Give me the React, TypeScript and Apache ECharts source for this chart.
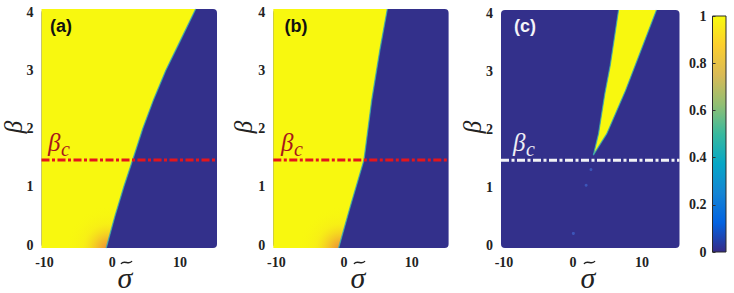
import React, { useEffect, useRef } from "react";
import * as echarts from "echarts";

// ---- axis ticks ----
const SIGMA_TICKS = [-10, 0, 10];
const SIGMA_MAX = 15;
const BETA_TICKS = [0, 1, 2, 3, 4];
const CBAR_TICKS = [0, 0.2, 0.4, 0.6, 0.8, 1];
const BETA_C = 1.46;

// ---- panel (a): boundary between yellow (left) and blue (right) ----
const A_BOUND_BETA = [0, 0.5, 1.0, 1.46, 2.0, 2.5, 3.0, 3.5, 4.0];
const A_BOUND_SIGMA = [-0.9, 0.4, 1.7, 3.0, 4.5, 6.1, 7.9, 10.0, 12.3];

// ---- panel (b) ----
const B_BOUND_BETA = [0, 0.65, 1.46, 2.0, 2.49, 3.35, 4.0];
const B_BOUND_SIGMA = [-0.8, 0.9, 2.95, 3.55, 4.1, 5.3, 6.4];

// ---- panel (c): yellow wedge ----
const C_LEFT_BETA = [1.55, 1.92, 2.6, 3.1, 4.0];
const C_LEFT_SIGMA = [2.95, 3.7, 4.6, 5.4, 6.6];
const C_RIGHT_BETA = [1.55, 1.92, 2.66, 3.4, 4.0];
const C_RIGHT_SIGMA = [2.95, 4.9, 7.6, 10.0, 12.1];
const C_SPECKS: number[][] = [
  [2.6, 1.3],
  [1.9, 1.03],
  [0.05, 0.2],
];

const PARULA = ["#352a87", "#0363e1", "#1485d4", "#06a7c6", "#38b99e", "#92bf73", "#d9ba56", "#fcce2e", "#f9fb0e"];
const BLUE = "#33308b";
const YELLOW = "#f8f80f";
const EDGE = "#35a9b4";
const PAD = 3;
const SERIF = "Liberation Serif";
const SANS = "Liberation Sans";

type Spec =
  | { kind: "left"; bs: number[]; bb: number[]; lineColor: string }
  | { kind: "wedge"; ls: number[]; lb: number[]; rs: number[]; rb: number[]; lineColor: string };

function panelSeries(idx: number, spec: Spec) {
  return {
    type: "custom",
    xAxisIndex: idx,
    yAxisIndex: idx,
    clip: false,
    silent: true,
    data: [[SIGMA_TICKS[0], BETA_TICKS[0]]],
    renderItem: (_params: any, api: any) => {
      const xMin = SIGMA_TICKS[0];
      const xMax = SIGMA_MAX;
      const yMin = BETA_TICKS[0];
      const yMax = BETA_TICKS[BETA_TICKS.length - 1];
      const P = (s: number, b: number) => {
        const c = api.coord([s, b]);
        let x = c[0];
        let y = c[1];
        if (s <= xMin) x -= PAD;
        if (s >= xMax) x += PAD;
        if (b <= yMin) y += PAD;
        if (b >= yMax) y -= PAD;
        return [x, y];
      };
      const tl = P(xMin, yMax);
      const br = P(xMax, yMin);
      const children: any[] = [];
      children.push({
        type: "rect",
        shape: { x: tl[0], y: tl[1], width: br[0] - tl[0], height: br[1] - tl[1], r: 4 },
        style: { fill: BLUE },
      });
      if (spec.kind === "left") {
        const bound = spec.bs.map((s, i) => P(s, spec.bb[i]));
        children.push({
          type: "polygon",
          shape: { points: [P(xMin, yMin), ...bound, P(xMin, yMax)] },
          style: { fill: YELLOW },
        });
        // orange fade hugging the lower part of the boundary
        const low = spec.bs
          .map((s, i) => [s, spec.bb[i]])
          .filter((p) => p[1] <= BETA_C)
          .map((p) => P(p[0], p[1]));
        const c0 = low[0];
        children.push({
          type: "polygon",
          shape: { points: [P(xMin, yMin), ...low, P(xMin, BETA_C)] },
          style: {
            fill: {
              type: "radial",
              x: c0[0] + 3,
              y: c0[1] + 2,
              r: 44,
              global: true,
              colorStops: [
                { offset: 0, color: "rgba(234,128,60,1)" },
                { offset: 0.25, color: "rgba(241,170,50,0.8)" },
                { offset: 0.6, color: "rgba(246,220,35,0.3)" },
                { offset: 1, color: "rgba(248,248,15,0)" },
              ],
            },
          },
        });
        children.push({
          type: "polyline",
          shape: { points: bound },
          style: { stroke: EDGE, lineWidth: 1.3, fill: "none", opacity: 0.8 },
        });
      } else {
        const left = spec.ls.map((s, i) => P(s, spec.lb[i]));
        const right = spec.rs.map((s, i) => P(s, spec.rb[i]));
        children.push({
          type: "polygon",
          shape: { points: [...left, ...right.slice().reverse()] },
          style: { fill: YELLOW },
        });
        children.push({
          type: "polyline",
          shape: { points: left },
          style: { stroke: EDGE, lineWidth: 1.2, fill: "none", opacity: 0.8 },
        });
        children.push({
          type: "polyline",
          shape: { points: right },
          style: { stroke: EDGE, lineWidth: 1.2, fill: "none", opacity: 0.8 },
        });
      }
      const l1 = P(xMin, BETA_C);
      const l2 = P(xMax, BETA_C);
      children.push({
        type: "line",
        shape: { x1: l1[0], y1: l1[1], x2: l2[0], y2: l2[1] },
        style: { stroke: spec.lineColor, lineWidth: 3, lineDash: [8, 2.5, 3, 2.5] },
      });
      return { type: "group", children };
    },
  };
}

const GRIDS = [
  { left: 44.5, top: 12, width: 169.5, height: 233 },
  { left: 276.3, top: 12, width: 169.3, height: 233 },
  { left: 504, top: 13, width: 172.5, height: 232 },
  { left: 712.5, top: 16, width: 13.5, height: 236 },
];

const tickLabel = { fontFamily: SERIF, fontWeight: "bold", fontSize: 14, color: "#222" };

function App() {
  const ref = useRef<HTMLDivElement>(null);
  useEffect(() => {
    document.body.style.margin = "0";
    const chart = echarts.init(ref.current!, null, { renderer: "svg" });
    const xAxes: any[] = [0, 1, 2].map((i) => ({
      type: "value",
      gridIndex: i,
      min: SIGMA_TICKS[0],
      max: SIGMA_MAX,
      interval: SIGMA_TICKS[1] - SIGMA_TICKS[0],
      axisLine: { show: false },
      axisTick: { show: false },
      splitLine: { show: false },
      axisLabel: { ...tickLabel, margin: 10, showMaxLabel: false, showMinLabel: true },
    }));
    xAxes.push({ type: "value", gridIndex: 3, min: 0, max: 1, show: false });
    const yAxes: any[] = [0, 1, 2].map((i) => ({
      type: "value",
      gridIndex: i,
      min: BETA_TICKS[0],
      max: BETA_TICKS[BETA_TICKS.length - 1],
      interval: BETA_TICKS[1] - BETA_TICKS[0],
      axisLine: { show: false },
      axisTick: { show: false },
      splitLine: { show: false },
      axisLabel: { ...tickLabel, margin: 11 },
    }));
    yAxes.push({
      type: "value",
      gridIndex: 3,
      min: CBAR_TICKS[0],
      max: CBAR_TICKS[CBAR_TICKS.length - 1],
      interval: CBAR_TICKS[1] - CBAR_TICKS[0],
      position: "left",
      axisLine: { show: false },
      axisTick: { show: true, inside: true, length: 3, lineStyle: { color: "#333", width: 1 } },
      splitLine: { show: false },
      axisLabel: { ...tickLabel, margin: 6 },
      z: 5,
    });

    const colorbar = {
      type: "custom",
      xAxisIndex: 3,
      yAxisIndex: 3,
      silent: true,
      clip: false,
      data: [[0, 0]],
      renderItem: (_p: any, api: any) => {
        const a = api.coord([0, CBAR_TICKS[CBAR_TICKS.length - 1]]);
        const b = api.coord([1, CBAR_TICKS[0]]);
        return {
          type: "rect",
          shape: { x: a[0], y: a[1], width: b[0] - a[0], height: b[1] - a[1] },
          style: {
            fill: {
              type: "linear",
              x: 0,
              y: 1,
              x2: 0,
              y2: 0,
              colorStops: PARULA.map((c, i) => ({ offset: i / (PARULA.length - 1), color: c })),
            },
            stroke: "#2a2a2a",
            lineWidth: 1,
          },
        };
      },
    };

    const txt = (x: number, y: number, text: string, o: any = {}, rotation = 0) => ({
      type: "text",
      x,
      y,
      rotation,
      silent: true,
      z: 10,
      style: { text, align: "center", verticalAlign: "middle", ...o },
    });
    const sigmaStyle = { fontFamily: SERIF, fontStyle: "italic", fontSize: 30, fill: "#222" };
    const betaStyle = { fontFamily: SERIF, fontStyle: "italic", fontSize: 25, fill: "#222" };
    const panelLbl = { fontFamily: SANS, fontWeight: "bold", fontSize: 18 };
    const bcB = { fontFamily: SERIF, fontStyle: "italic", fontSize: 25, align: "left" };
    const bcC = { fontFamily: SERIF, fontStyle: "italic", fontSize: 20, align: "left" };
    const red = "#a8161b";
    const white = "#eeeef4";

    const sigmaLabel = (cx: number, cy: number) => [
      txt(cx, cy, "σ", sigmaStyle),
      {
        type: "bezierCurve",
        silent: true,
        z: 10,
        shape: {
          x1: cx - 4,
          y1: cy - 13,
          cpx1: cx - 1,
          cpy1: cy - 18,
          cpx2: cx + 4,
          cpy2: cy - 11,
          x2: cx + 7,
          y2: cy - 16,
        },
        style: { stroke: "#222", lineWidth: 1.4, fill: "none" },
      },
    ];
    const betaC = (x: number, color: string) => [
      txt(x, 142, "β", { ...bcB, fill: color }),
      txt(x + 13, 149, "c", { ...bcC, fill: color }),
    ];

    const graphic = [
      txt(61, 26, "(a)", { ...panelLbl, fill: "#111" }),
      txt(296, 26, "(b)", { ...panelLbl, fill: "#111" }),
      txt(525, 26, "(c)", { ...panelLbl, fill: "#f4f4f8" }),
      ...sigmaLabel(125, 277),
      ...sigmaLabel(358, 277),
      ...sigmaLabel(588, 277),
      txt(13, 127, "β", betaStyle, Math.PI / 2),
      txt(243, 127, "β", betaStyle, Math.PI / 2),
      txt(472, 127, "β", betaStyle, Math.PI / 2),
      ...betaC(48, red),
      ...betaC(281, red),
      ...betaC(513, white),
    ];

    chart.setOption({
      animation: false,
      grid: GRIDS.map((g) => ({ ...g, containLabel: false })),
      xAxis: xAxes,
      yAxis: yAxes,
      series: [
        panelSeries(0, { kind: "left", bs: A_BOUND_SIGMA, bb: A_BOUND_BETA, lineColor: "#e3161c" }),
        panelSeries(1, { kind: "left", bs: B_BOUND_SIGMA, bb: B_BOUND_BETA, lineColor: "#e3161c" }),
        panelSeries(2, { kind: "wedge", ls: C_LEFT_SIGMA, lb: C_LEFT_BETA, rs: C_RIGHT_SIGMA, rb: C_RIGHT_BETA, lineColor: "#f2f2f6" }),
        {
          type: "scatter",
          xAxisIndex: 2,
          yAxisIndex: 2,
          symbolSize: 3,
          silent: true,
          itemStyle: { color: "#3f5fc4", opacity: 0.8 },
          data: C_SPECKS,
          z: 3,
        },
        colorbar,
      ],
      graphic,
    });
    return () => chart.dispose();
  }, []);
  return <div ref={ref} style={{ width: 734, height: 293 }} />;
}

export default App;
